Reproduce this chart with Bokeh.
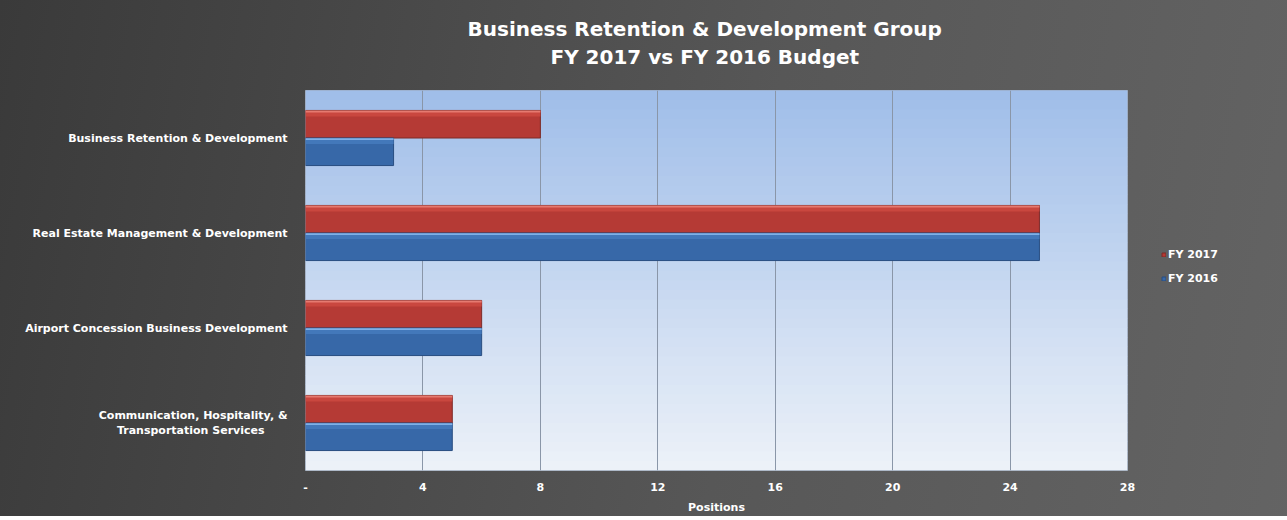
from bokeh.plotting import figure
from bokeh.models import FixedTicker, Legend, LegendItem, Title
from bokeh.embed import file_html
from bokeh.resources import INLINE

categories = ["Business Retention & Development",
              "Real Estate Management & Development",
              "Airport Concession Business Development",
              "Communication, Hospitality, &\nTransportation Services\u00a0\u00a0\u00a0\u00a0\u00a0\u00a0"]
fy2017 = [8, 25, 6, 5]
fy2016 = [3, 25, 6, 5]
x_ticks = [0, 4, 8, 12, 16, 20, 24, 28]
x_tick_labels = ["-", "4", "8", "12", "16", "20", "24", "28"]
series_names = ["FY 2017", "FY 2016"]
title_lines = ["Business Retention & Development Group", "FY 2017 vs FY 2016 Budget"]

n = len(categories)
ypos = [n - 0.5 - i for i in range(n)]
bh = 0.29

p = figure(frame_width=822, frame_height=380, output_backend="svg", toolbar_location=None,
           x_range=(0, 28), y_range=(0, n),
           min_border_left=305, min_border_right=154, min_border_top=90,
           min_border_bottom=45, border_fill_alpha=0,
           background_fill_color="#c8d8f0", outline_line_color="#9aa6b8")
p.styles = {"background-image":
            "linear-gradient(100deg, #3a3a3a 0%, #575757 45%, #6c6c6c 100%)"}


def mix(c1, c2, t):
    a = [int(c1[i:i + 2], 16) for i in (1, 3, 5)]
    b = [int(c2[i:i + 2], 16) for i in (1, 3, 5)]
    return "#%02x%02x%02x" % tuple(int(round(a[k] + (b[k] - a[k]) * t)) for k in range(3))


# plot area gradient (decorative)
gsteps = 40
for i in range(gsteps):
    t = i / (gsteps - 1)
    p.quad(left=0, right=28, bottom=n * i / gsteps, top=n * (i + 1) / gsteps + 0.005,
           fill_color=mix("#ecf1f8", "#a0bee9", t), line_alpha=0, level="image")

# bars
y17 = [y + bh / 2 for y in ypos]
y16 = [y - bh / 2 for y in ypos]
r17 = p.hbar(y=y17, right=fy2017, left=0, height=bh, fill_color="#b53a35",
             line_color="#7d2a28", line_width=1)
p.hbar(y=[y + bh * 0.38 for y in y17], right=fy2017, left=0, height=bh * 0.2,
       fill_color="#c9473f", line_alpha=0)
p.hbar(y=[y + bh * 0.46 for y in y17], right=fy2017, left=0, height=bh * 0.07,
       fill_color="#e57a70", line_alpha=0)
r16 = p.hbar(y=y16, right=fy2016, left=0, height=bh, fill_color="#3768a8",
             line_color="#284d80", line_width=1)
p.hbar(y=[y + bh * 0.38 for y in y16], right=fy2016, left=0, height=bh * 0.2,
       fill_color="#4378ba", line_alpha=0)
p.hbar(y=[y + bh * 0.46 for y in y16], right=fy2016, left=0, height=bh * 0.07,
       fill_color="#7fb0e6", line_alpha=0)

# axes
p.xaxis.ticker = FixedTicker(ticks=x_ticks)
p.xaxis.major_label_overrides = {t: l for t, l in zip(x_ticks, x_tick_labels)}
p.yaxis.ticker = FixedTicker(ticks=ypos)
p.yaxis.major_label_overrides = {y: c for y, c in zip(ypos, categories)}
for ax in (p.xaxis[0], p.yaxis[0]):
    ax.axis_line_color = None
    ax.major_tick_line_color = None
    ax.minor_tick_line_color = None
    ax.major_label_text_color = "white"
    ax.major_label_text_font = "DejaVu Sans"
    ax.major_label_text_font_style = "bold"
    ax.major_label_text_font_size = "11px"
p.yaxis.major_label_standoff = 12
p.xaxis.major_label_standoff = 6
p.xaxis.axis_label = "Positions"
p.xaxis.axis_label_text_color = "white"
p.xaxis.axis_label_text_font = "DejaVu Sans"
p.xaxis.axis_label_text_font_style = "bold"
p.xaxis.axis_label_text_font_size = "11px"
p.xaxis.axis_label_standoff = 7

p.xgrid.grid_line_color = "#8a96a8"
p.xgrid.grid_line_width = 1
p.ygrid.grid_line_color = None

# titles (spacer first, nearest the plot area)
spacer = Title(text="\u00a0", text_font_size="1px", standoff=17)
p.add_layout(spacer, "above")
p.title.text = title_lines[0]
p.title.align = "left"
p.title.offset = 162
p.title.text_color = "white"
p.title.text_font = "DejaVu Sans"
p.title.text_font_style = "bold"
p.title.text_font_size = "20px"
p.title.standoff = 0
t2 = Title(text=title_lines[1], align="left", offset=245,
           text_color="white", text_font="DejaVu Sans", text_font_style="bold",
           text_font_size="20px", standoff=4)
p.add_layout(t2, "above")

legend = Legend(items=[LegendItem(label=series_names[0], renderers=[r17]),
                       LegendItem(label=series_names[1], renderers=[r16])],
                location=(34, 185), background_fill_alpha=0, border_line_alpha=0,
                label_text_color="white", label_text_font="DejaVu Sans",
                label_text_font_style="bold", label_text_font_size="11px",
                glyph_width=5, glyph_height=5, spacing=11, label_standoff=2,
                margin=0, padding=0)
p.add_layout(legend, "right")

open("out.html", "w").write(file_html(p, INLINE))
